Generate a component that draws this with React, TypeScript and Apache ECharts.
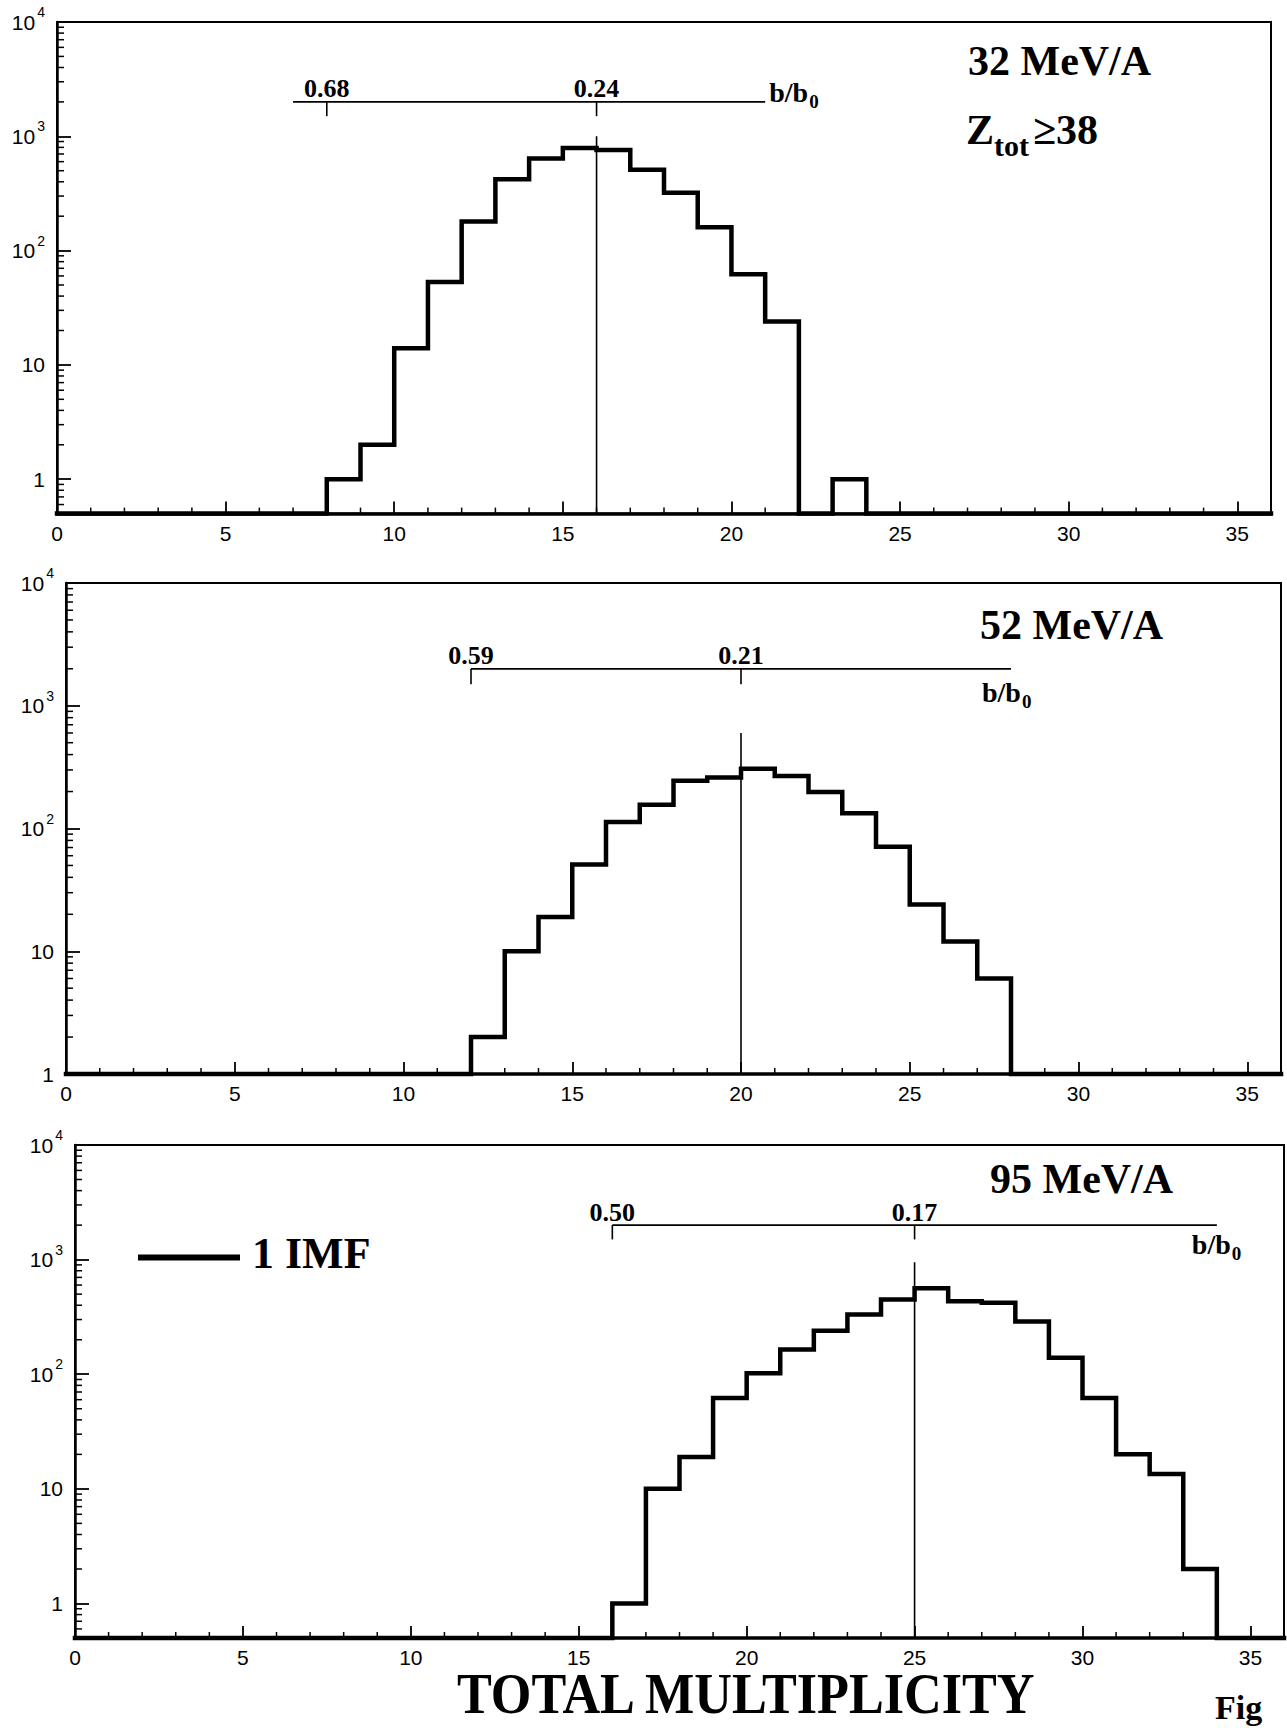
import React, { useEffect, useRef } from "react";
import * as echarts from "echarts";

// ---------- data ----------
const multiplicity = [0,1,2,3,4,5,6,7,8,9,10,11,12,13,14,15,16,17,18,19,20,21,22,23,24,25,26,27,28,29,30,31,32,33,34,35];
const counts32 = [0,0,0,0,0,0,0,0,1,2,14,53,180,420,640,790,760,510,320,160,62,24,0,1,0,0,0,0,0,0,0,0,0,0,0,0];
const counts52 = [0,0,0,0,0,0,0,0,0,0,0,0,2,10,19,51,113,156,245,260,307,268,198,133,71,24,12,6,0,0,0,0,0,0,0,0];
const counts95 = [0,0,0,0,0,0,0,0,0,0,0,0,0,0,0,0,1,10,19,62,102,164,239,332,448,562,434,420,289,139,62,20,13.5,2,0,0];

const energies = ["32 MeV/A", "52 MeV/A", "95 MeV/A"];
const bScaleFrom = [7, 12, 16];
const bScaleTo = [21, 28, 34];
const bTicks32 = [8, 16];
const bTicks52 = [12, 20];
const bTicks95 = [16, 25];
const bLabels32 = ["0.68", "0.24"];
const bLabels52 = ["0.59", "0.21"];
const bLabels95 = ["0.50", "0.17"];
const bLevel = 2000;
const bTickEnd = 1500;
const peakX = [16, 20, 25];
const peakTop = [1000, 600, 950];
const yMins = [0.5, 1, 0.5];
const yMax = 10000;
const xMax = 36;
const xMinorTicks = [1,2,3,4,6,7,8,9,11,12,13,14,16,17,18,19,21,22,23,24,26,27,28,29,31,32,33,34];
const xAxisTitle = "TOTAL MULTIPLICITY";
const legendLabel = "1 IMF";
const cutTitle = "Ztot≥38";
const figLabel = "Fig";

// ---------- layout (pixels) ----------
const grids = [
  { left: 57, top: 22, width: 1214, height: 491.6 },
  { left: 66, top: 583, width: 1215, height: 491 },
  { left: 75, top: 1145, width: 1216, height: 493 },
];
const titlePos = [
  [968, 61],
  [980, 625],
  [990, 1179],
];
const bLabelDx = [4, -29, -25];
const bLabelDy = [0, 33, 29];

const SERIF = '"Liberation Serif", "Times New Roman", serif';
const SANS = '"Liberation Sans", Arial, sans-serif';

const allCounts = [counts32, counts52, counts95];
const allTicks = [bTicks32, bTicks52, bTicks95];
const allLabels = [bLabels32, bLabels52, bLabels95];

function yLabel(v: number) {
  const l = Math.log10(v);
  const e = Math.round(l);
  if (Math.abs(l - e) > 1e-6) return "";
  if (e === 0) return "1";
  if (e === 1) return "10";
  return "{a|10}{e|" + e + "}";
}

function buildOption() {
  const xAxes: any[] = [];
  const yAxes: any[] = [];
  const series: any[] = [];

  for (let p = 0; p < 3; p++) {
    const yMin = yMins[p];
    xAxes.push({
      type: "value",
      gridIndex: p,
      min: 0,
      max: xMax,
      interval: 5,
      axisLine: { show: true, onZero: false, lineStyle: { color: "#000", width: 3.5 } },
      axisTick: { show: true, inside: true, length: 12, lineStyle: { color: "#000", width: 1.8 } },
      axisLabel: {
        color: "#000",
        fontFamily: SANS,
        fontSize: 21,
        margin: 9,
        formatter: (v: number) => (v % 5 === 0 && v <= 35 ? String(v) : ""),
      },
      splitLine: { show: false },
    });
    yAxes.push({
      type: "log",
      logBase: 10,
      gridIndex: p,
      min: yMin,
      max: yMax,
      axisLine: { show: true, onZero: false, lineStyle: { color: "#000", width: 2.5 } },
      axisTick: { show: true, inside: true, length: 14, lineStyle: { color: "#000", width: 1.8 } },
      axisLabel: {
        color: "#000",
        fontFamily: SANS,
        fontSize: 21,
        margin: 12,
        formatter: yLabel,
        rich: {
          a: { fontFamily: SANS, fontSize: 21, lineHeight: 34, color: "#000" },
          e: { fontFamily: SANS, fontSize: 14, lineHeight: 16, verticalAlign: "top", color: "#000", padding: [0, 0, 0, 2] },
        },
      },
      splitLine: { show: false },
    });

    // histogram
    const counts = allCounts[p];
    const pts: any[] = multiplicity.map((m, j) => [m, counts[j] > 0 ? counts[j] : yMin]);
    const last = counts[counts.length - 1];
    pts.push([xMax, last > 0 ? last : yMin]);
    series.push({
      type: "line",
      xAxisIndex: p,
      yAxisIndex: p,
      data: pts,
      step: "end",
      symbol: "none",
      clip: false,
      lineStyle: { color: "#000", width: 4.5, join: "miter", cap: "square" },
      z: 5,
    });

    // minor ticks
    const minorData: any[] = [];
    xMinorTicks.forEach((x) => minorData.push([x, yMin, 0]));
    for (let k = -1; k <= 3; k++) {
      for (let m = 2; m <= 9; m++) {
        const v = m * Math.pow(10, k);
        if (v > yMin * 1.0001 && v < yMax) minorData.push([0, v, 1]);
      }
    }
    series.push({
      type: "custom",
      xAxisIndex: p,
      yAxisIndex: p,
      data: minorData,
      silent: true,
      renderItem: (params: any, api: any) => {
        const kind = api.value(2);
        const c = api.coord([api.value(0), api.value(1)]);
        if (kind === 0) {
          return { type: "line", shape: { x1: c[0], y1: c[1], x2: c[0], y2: c[1] - 6 }, style: { stroke: "#000", lineWidth: 1.5 } };
        }
        return { type: "line", shape: { x1: c[0], y1: c[1], x2: c[0] + 7, y2: c[1] }, style: { stroke: "#000", lineWidth: 1.5 } };
      },
      z: 4,
    });

    // b/b0 scale, peak line
    const ticks = allTicks[p];
    const labels = allLabels[p];
    series.push({
      type: "custom",
      xAxisIndex: p,
      yAxisIndex: p,
      data: [[0, yMin]],
      silent: true,
      renderItem: (params: any, api: any) => {
        const children: any[] = [];
        const a = api.coord([bScaleFrom[p], bLevel]);
        const b = api.coord([bScaleTo[p], bLevel]);
        children.push({ type: "line", shape: { x1: a[0], y1: a[1], x2: b[0], y2: b[1] }, style: { stroke: "#000", lineWidth: 1.8 } });
        ticks.forEach((t, i) => {
          const t1 = api.coord([t, bLevel]);
          const t2 = api.coord([t, bTickEnd]);
          children.push({ type: "line", shape: { x1: t1[0], y1: t1[1], x2: t2[0], y2: t2[1] }, style: { stroke: "#000", lineWidth: 1.6 } });
          children.push({
            type: "text",
            x: t1[0],
            y: t1[1] - 13,
            style: { text: labels[i], fill: "#000", font: "bold 26px " + SERIF, textAlign: "center", textVerticalAlign: "middle" },
          });
        });
        const pk1 = api.coord([peakX[p], peakTop[p]]);
        const pk2 = api.coord([peakX[p], yMins[p]]);
        children.push({ type: "line", shape: { x1: pk1[0], y1: pk1[1], x2: pk2[0], y2: pk2[1] }, style: { stroke: "#000", lineWidth: 1.6 } });
        const lx = b[0] + bLabelDx[p];
        const base = b[1] + bLabelDy[p];
        children.push({
          type: "text",
          x: lx,
          y: base - 9.5,
          style: { text: "b/b", fill: "#000", font: "bold 28px " + SERIF, textAlign: "left", textVerticalAlign: "middle" },
        });
        children.push({
          type: "text",
          x: lx + 40,
          y: base - 0.5,
          style: { text: "0", fill: "#000", font: "bold 19px " + SERIF, textAlign: "left", textVerticalAlign: "middle" },
        });
        return { type: "group", children };
      },
      z: 6,
    });
  }

  const graphic: any[] = [];
  energies.forEach((t, i) => {
    graphic.push({
      type: "text",
      x: titlePos[i][0],
      y: titlePos[i][1],
      style: { text: t, fill: "#000", font: "bold 42px " + SERIF, textAlign: "left", textVerticalAlign: "middle" },
    });
  });
  // Z_tot >= 38
  graphic.push({
    type: "text", x: 966, y: 130,
    style: { text: cutTitle.slice(0, 1), fill: "#000", font: "bold 42px " + SERIF, textAlign: "left", textVerticalAlign: "middle" },
  });
  graphic.push({
    type: "text", x: 994, y: 145,
    style: { text: cutTitle.slice(1, 4), fill: "#000", font: "bold 30px " + SERIF, textAlign: "left", textVerticalAlign: "middle" },
  });
  graphic.push({
    type: "text", x: 1033, y: 130,
    style: { text: cutTitle.slice(4), fill: "#000", font: "bold 42px " + SERIF, textAlign: "left", textVerticalAlign: "middle" },
  });
  // legend
  graphic.push({ type: "line", shape: { x1: 138, y1: 1257.5, x2: 240, y2: 1257.5 }, style: { stroke: "#000", lineWidth: 6 } });
  graphic.push({
    type: "text", x: 252, y: 1253,
    style: { text: legendLabel, fill: "#000", font: "bold 44px " + SERIF, textAlign: "left", textVerticalAlign: "middle" },
  });
  // axis title
  graphic.push({
    type: "text", x: 457, y: 1694, scaleX: 0.9,
    style: { text: xAxisTitle, fill: "#000", font: "bold 58px " + SERIF, textAlign: "left", textVerticalAlign: "middle" },
  });
  graphic.push({
    type: "text", x: 1215, y: 1707,
    style: { text: figLabel, fill: "#000", font: "bold 34px " + SERIF, textAlign: "left", textVerticalAlign: "middle" },
  });

  return {
    animation: false,
    backgroundColor: "#fff",
    grid: grids.map((g) => ({ ...g, show: true, borderColor: "#000", borderWidth: 2, backgroundColor: "transparent" })),
    xAxis: xAxes,
    yAxis: yAxes,
    series,
    graphic,
  };
}

export default function App() {
  const ref = useRef<HTMLDivElement>(null);
  useEffect(() => {
    if (!ref.current) return;
    const chart = echarts.init(ref.current, undefined, { renderer: "svg" });
    chart.setOption(buildOption() as any);
    return () => chart.dispose();
  }, []);
  return (
    <div
      ref={ref}
      style={{ position: "absolute", left: 0, top: 0, width: 1287, height: 1728, background: "#fff" }}
    />
  );
}
